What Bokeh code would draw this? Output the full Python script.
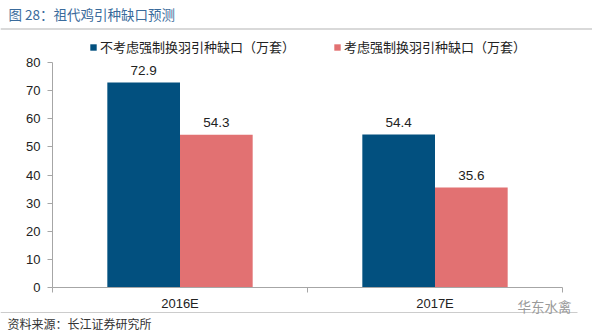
from bokeh.plotting import figure
from bokeh.models import (Range1d, FixedTicker, LinearAxis, Label, PolyAnnotation,
                          Legend, LegendItem, ColumnDataSource)
from bokeh.transform import dodge
from bokeh.embed import file_html
from bokeh.resources import INLINE

# ---------------- data ----------------
categories = ["2016E", "2017E"]
series_names = ["不考虑强制换羽引种缺口（万套）", "考虑强制换羽引种缺口（万套）"]
gap_no_molt = [72.9, 54.4]
gap_with_molt = [54.3, 35.6]
y_ticks = [0, 10, 20, 30, 40, 50, 60, 70, 80]
title_text = "图 28：祖代鸡引种缺口预测"
source_text = "资料来源：长江证券研究所"
watermark_text = "华东水禽"

# ---------------- style / layout ----------------
W, H = 592, 335
PL, PR, PT, PB = 52, 562, 62, 287   # plot area edges on the canvas (px)
Y_MAX = y_ticks[-1]
NCAT = len(categories)
BLUE = "#02507F"
PINK = "#E27172"
AXIS = "#A6A6A6"
LAT = "'Liberation Sans', 'Noto Sans CJK SC', sans-serif"
CJK = "'Noto Sans CJK SC', 'Liberation Sans', sans-serif"

# frame covers the whole canvas; ranges chosen so the plot area lands at PL..PR, PT..PB
kx = (PR - PL) / NCAT
ky = (PB - PT) / Y_MAX
x_range = Range1d(-PL / kx, NCAT + (W - PR) / kx)
y_range = Range1d(-(H - PB) / ky, Y_MAX + PT / ky)

def sx(cx):
    return cx

def sy(cy):
    return H - cy

xs = [i + 0.5 for i in range(NCAT)]
src = ColumnDataSource(dict(
    x=xs,
    a=gap_no_molt, b=gap_with_molt,
    la=[f"{v:.1f}" for v in gap_no_molt],
    lb=[f"{v:.1f}" for v in gap_with_molt],
))

p = figure(width=W, height=H, output_backend="svg", toolbar_location=None,
           x_range=x_range, y_range=y_range,
           x_axis_type=None, y_axis_type=None,
           min_border=0)
p.outline_line_color = None
p.background_fill_color = "white"
p.border_fill_color = "white"
p.xgrid.visible = False
p.ygrid.visible = False

# y axis (drawn at x = 0 inside the frame)
yax = LinearAxis(ticker=FixedTicker(ticks=y_ticks), bounds=(0, Y_MAX), fixed_location=0)
yax.axis_line_color = AXIS
yax.major_tick_line_color = AXIS
yax.major_tick_out = 5
yax.major_tick_in = 0
yax.minor_tick_line_color = None
yax.major_label_text_font = LAT
yax.major_label_text_font_size = "13px"
yax.major_label_text_color = "#222222"
yax.major_label_standoff = 7
p.add_layout(yax, "left")

# x axis: labels at category centres, ticks at category boundaries
bounds_ticks = list(range(NCAT + 1))
xax = LinearAxis(ticker=FixedTicker(ticks=xs, minor_ticks=bounds_ticks),
                 bounds=(0, NCAT), fixed_location=0)
xax.major_label_overrides = {x: c for x, c in zip(xs, categories)}
xax.axis_line_color = AXIS
xax.major_tick_line_color = None
xax.major_tick_out = 0
xax.major_tick_in = 0
xax.minor_tick_line_color = AXIS
xax.minor_tick_out = 5
xax.minor_tick_in = 0
xax.major_label_text_font = LAT
xax.major_label_text_font_size = "13px"
xax.major_label_text_color = "#222222"
xax.major_label_standoff = 3
p.add_layout(xax, "below")

bw = 0.285
r1 = p.vbar(x=dodge("x", -bw / 2, range=p.x_range), top="a", width=bw, source=src,
            fill_color=BLUE, line_color=None)
r2 = p.vbar(x=dodge("x", bw / 2, range=p.x_range), top="b", width=bw, source=src,
            fill_color=PINK, line_color=None)

for col, lab, off in (("a", "la", -bw / 2), ("b", "lb", bw / 2)):
    p.text(x=dodge("x", off, range=p.x_range), y=col, text=lab, source=src,
           text_align="center", text_baseline="alphabetic", y_offset=-12,
           text_font={"value": LAT}, text_font_size="13.5px", text_color="#222222")

legend = Legend(items=[LegendItem(label=series_names[0], renderers=[r1]),
                       LegendItem(label=series_names[1], renderers=[r2])],
                orientation="horizontal", location=(sx(89), sy(56)),
                glyph_width=8, glyph_height=8, label_standoff=3, spacing=38,
                padding=0, margin=0, border_line_color=None, background_fill_alpha=0,
                label_text_font=CJK, label_text_font_size="13px",
                label_text_color="#222222", label_height=16)
p.add_layout(legend, "center")

# title, rules, source note, watermark
p.add_layout(Label(x=sx(8), y=sy(13), x_units="screen", y_units="screen", text=title_text,
                   text_font=CJK, text_font_size="13.5px", text_color="#3A6B9C",
                   text_baseline="middle"))
p.add_layout(PolyAnnotation(xs=[sx(0), sx(592)], ys=[sy(28.5), sy(28.5)],
                            xs_units="screen", ys_units="screen",
                            line_color="#555555", line_width=1.5, fill_alpha=0))
p.add_layout(PolyAnnotation(xs=[sx(0), sx(577)], ys=[sy(312), sy(312)],
                            xs_units="screen", ys_units="screen",
                            line_color="#555555", line_width=1, fill_alpha=0))
p.add_layout(Label(x=sx(7), y=sy(322.5), x_units="screen", y_units="screen", text=source_text,
                   text_font=CJK, text_font_size="12px", text_color="#333333",
                   text_baseline="middle"))
p.add_layout(Label(x=sx(517), y=sy(305), x_units="screen", y_units="screen", text=watermark_text,
                   text_font=CJK, text_font_size="13.5px", text_color="#9A9A9A",
                   text_baseline="middle"))

open("out.html", "w").write(file_html(p, INLINE))
